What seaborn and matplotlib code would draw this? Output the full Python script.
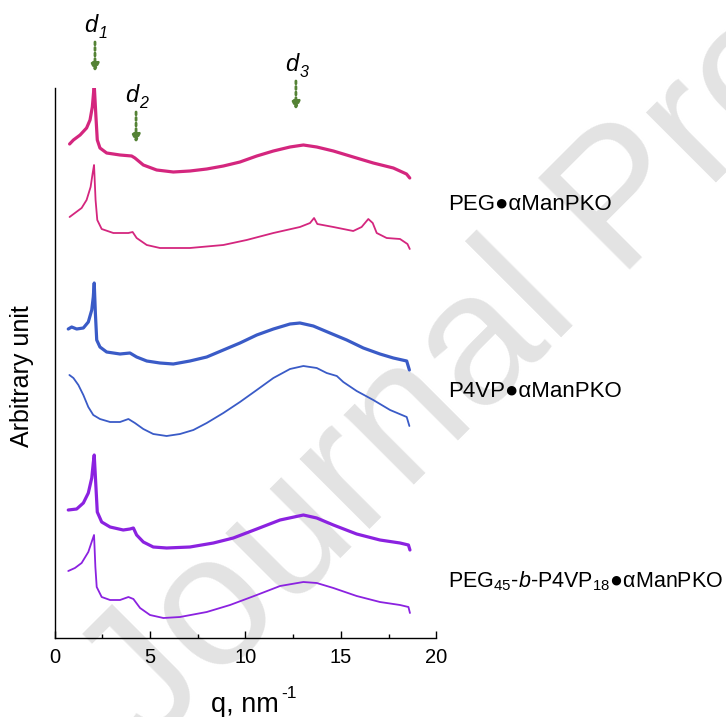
import matplotlib
matplotlib.use("Agg")
import matplotlib.pyplot as plt
import seaborn as sns
import numpy as np
import pandas as pd
from matplotlib.ticker import MultipleLocator

# ---- data (q in nm^-1, intensity in arbitrary stacked units) ----
q1 = [0.79, 0.99, 1.34, 1.68, 1.86, 1.98, 2.08, 2.17, 2.24, 2.38, 2.73, 3.43, 4.04, 4.21, 4.65, 5.35, 6.22, 7.09, 7.97,
      8.84, 9.71, 10.59, 11.46, 12.33, 13.03, 13.73, 14.6, 15.64, 16.69, 17.74, 18.43, 18.6]
y1 = [494, 498, 503, 510, 518, 531, 553, 521, 498, 490, 485, 483, 482, 480, 473, 468, 466, 467, 469,
      472, 476, 482, 487, 491, 493, 491, 487, 481, 475, 470, 464, 460]

q2 = [0.79, 1.07, 1.42, 1.68, 1.89, 2.0, 2.07, 2.15, 2.24, 2.47, 3.08, 3.87, 4.09, 4.3, 4.83, 5.52, 7.09, 8.84, 10.06,
      11.46, 12.85, 13.38, 13.59, 13.76, 14.6, 15.64, 16.08, 16.43, 16.66, 16.87, 17.39, 18.09, 18.48, 18.6]
y2 = [421, 425, 430, 438, 451, 465, 473, 438, 418, 409, 405, 405, 406, 400, 393, 390, 390, 393, 398,
      405, 411, 415, 420, 414, 411, 407, 411, 419, 415, 405, 400, 399, 394, 389]

q3 = [0.72, 0.9, 1.16, 1.51, 1.77, 1.95, 2.03, 2.08, 2.14, 2.21, 2.38, 2.73, 3.43, 3.95, 4.3, 4.83, 5.52, 6.22, 7.09,
      7.97, 8.84, 9.71, 10.59, 11.46, 12.33, 12.85, 13.55, 14.42, 15.3, 16.17, 17.04, 17.74, 18.44, 18.58]
y3 = [309, 311, 309, 310, 316, 328, 341, 355, 325, 298, 291, 286, 284, 285, 281, 277, 275, 274, 277,
      281, 288, 295, 303, 309, 314, 315, 312, 305, 298, 290, 284, 280, 277, 268]

q4 = [0.78, 0.99, 1.25, 1.51, 1.77, 2.03, 2.38, 2.91, 3.43, 3.87, 4.21, 4.65, 5.17, 5.87, 6.57, 7.27, 7.97, 8.84,
      9.71, 10.59, 11.46, 12.33, 13.03, 13.73, 14.25, 14.78, 15.12, 15.82, 16.69, 17.57, 18.44, 18.58]
y4 = [263, 260, 253, 243, 231, 223, 219, 216, 216, 219, 215, 209, 204, 202, 204, 208, 215, 225,
      236, 248, 260, 269, 272, 270, 265, 262, 256, 247, 238, 228, 221, 212]

q5 = [0.72, 1.16, 1.51, 1.77, 1.95, 2.03, 2.08, 2.15, 2.24, 2.47, 2.91, 3.6, 3.95, 4.13, 4.3, 4.65, 5.17, 5.87, 7.09,
      8.32, 9.36, 10.59, 11.81, 13.03, 13.73, 14.6, 15.82, 17.04, 18.09, 18.53, 18.61]
y5 = [128, 129, 135, 145, 160, 175, 183, 158, 126, 116, 111, 108, 109, 110, 103, 96, 91, 90, 91,
      95, 100, 109, 118, 123, 120, 113, 104, 98, 95, 93, 88]

q6 = [0.72, 1.07, 1.42, 1.77, 1.98, 2.07, 2.14, 2.21, 2.47, 2.91, 3.43, 3.87, 4.13, 4.48, 5.0, 5.7, 6.57, 7.97, 9.19,
      10.59, 11.81, 13.03, 13.73, 14.6, 15.82, 17.04, 18.09, 18.53, 18.61]
y6 = [67, 70, 75, 86, 98, 103, 71, 51, 41, 38, 38, 41, 39, 30, 23, 20, 21, 26, 33,
      43, 52, 56, 55, 50, 42, 36, 33, 31, 25]

sample_labels = ["PEG●αManPKO", "P4VP●αManPKO",
                 r"PEG$_{45}$-$\mathit{b}$-P4VP$_{18}$●αManPKO"]

arrow_q = [2.12, 4.27, 12.64]
arrow_top = [596, 526, 557]
arrow_bottom = [566, 495, 528]
arrow_sub = ["1", "2", "3"]

xticks = [0, 5, 10, 15, 20]

# ---- style ----
sns.set_style("white")
plt.rcParams['font.family'] = ['Liberation Sans', 'DejaVu Sans']
plt.rcParams['mathtext.fontset'] = 'custom'
plt.rcParams['mathtext.rm'] = 'Liberation Sans'
plt.rcParams['mathtext.it'] = 'Liberation Sans:italic'
plt.rcParams['mathtext.bf'] = 'Liberation Sans:bold'
plt.rcParams['text.color'] = 'black'
plt.rcParams['xtick.color'] = 'black'
plt.rcParams['axes.labelcolor'] = 'black'

magenta = '#d4267e'
blue = '#3a5bc7'
purple = '#8b22e0'
green = '#548235'

fig = plt.figure(figsize=(7.26, 7.17), dpi=100)

# watermark
fig.text(625 / 726, 1 - 205 / 717, "Journal Pre-proof", rotation=45,
         rotation_mode='anchor', ha='center', va='center', fontsize=135,
         color='#e3e3e3', zorder=-1)

ax = fig.add_axes([54.5 / 726, 1 - 638 / 717, (436.5 - 54.5) / 726, (638 - 88) / 717])
ax.patch.set_alpha(0)

series = [(q1, y1, magenta, 2.3), (q2, y2, magenta, 1.3),
          (q3, y3, blue, 2.3), (q4, y4, blue, 1.3),
          (q5, y5, purple, 2.3), (q6, y6, purple, 1.3)]
for qq, yy, c, lw in series:
    sns.lineplot(x=qq, y=yy, ax=ax, color=c, linewidth=lw, estimator=None, sort=False)

ax.set_xlim(0, 20)
ax.set_ylim(0, 550)
ax.set_xticks(xticks)
ax.xaxis.set_minor_locator(MultipleLocator(2.5))
ax.set_yticks([])
ax.tick_params(axis='x', which='major', direction='in', length=5, width=1, pad=7,
               labelsize=14.5, bottom=True, colors='black')
ax.tick_params(axis='x', which='minor', direction='in', length=3, width=1, bottom=True)
for s in ['top', 'right']:
    ax.spines[s].set_visible(False)
for s in ['left', 'bottom']:
    ax.spines[s].set_color('black')
    ax.spines[s].set_linewidth(1.0)
ax.set_xlabel("")
ax.set_ylabel("")

# arrows and d labels
for qa, yt, yb, sub in zip(arrow_q, arrow_top, arrow_bottom, arrow_sub):
    ax.annotate('', xy=(qa, yb), xytext=(qa, yt),
                arrowprops=dict(arrowstyle='-|>', linestyle=(0, (1, 1)), color=green,
                                lw=2.0, mutation_scale=12, shrinkA=0, shrinkB=0),
                annotation_clip=False)
    ax.annotate('d', xy=(qa, yt), xytext=(-8, 7), textcoords='offset points',
                fontsize=17, style='italic', ha='left', va='baseline',
                annotation_clip=False)
    ax.annotate(sub, xy=(qa, yt), xytext=(2.5, 3), textcoords='offset points',
                fontsize=11.5, style='italic', ha='left', va='baseline',
                annotation_clip=False)

# sample labels
label_y = [210, 397, 587]
label_fs = [16, 16, 15.5]
for lab, yb, fs in zip(sample_labels, label_y, label_fs):
    fig.text(448 / 726, 1 - yb / 717, lab, fontsize=fs, ha='left', va='baseline')

fig.text(22 / 726, 1 - 376 / 717, "Arbitrary unit", rotation=90, fontsize=18,
         ha='center', va='center')
fig.text(211 / 726, 1 - 712 / 717, "q, nm", fontsize=19.5, ha='left', va='baseline')
fig.text(281 / 726, 1 - 698 / 717, "-1", fontsize=12.5, ha='left', va='baseline')

fig.savefig("out.png", dpi=100)
